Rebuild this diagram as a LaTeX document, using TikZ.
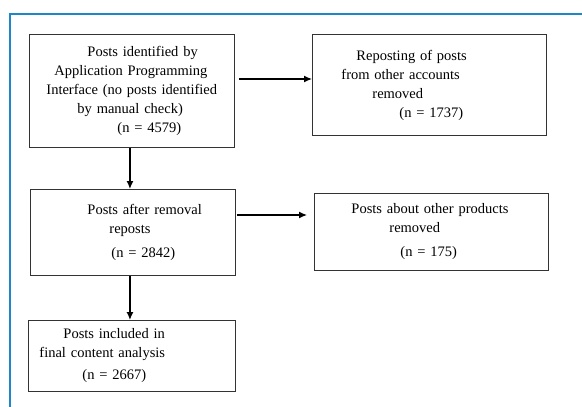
\documentclass[tikz,border=0pt]{standalone}
\usepackage{fontspec}
\setmainfont{Liberation Serif}
\usetikzlibrary{arrows.meta,positioning}
\definecolor{framecol}{RGB}{30,136,199}

\begin{document}
\begin{tikzpicture}[x = 1pt, y = -1pt, font=\fontsize{14.5}{19}\selectfont,
  box/.style={draw=black!80, line width=.9pt, inner sep=0pt, anchor=north west, align=left},
  flow/.style={line width=1.3pt, -{Latex[length=8pt,width=7pt]}}]
\useasboundingbox (0,0) rectangle (582,407);
% Blue frame
\draw[line width=2pt, framecol] (582,14) -- (10,14) -- (10,407);
% Left column
\node[box, text width=205pt, minimum height=113pt] (api) at (29,34) {\hspace*{58pt}Posts identified by\\
\hspace*{25pt}Application Programming\\
\hspace*{17pt}Interface (no posts identified\\
\hspace*{48pt}by manual check)\\
\hspace*{88pt}(n = 4579)};
\node[box, text width=205pt, minimum height=86pt] (afterrep) at (30,189) {\hspace*{57pt}Posts after removal\\
\hspace*{79pt}reposts\\[5pt]
\hspace*{81pt}(n = 2842)};
\node[box, text width=207pt, minimum height=71pt] (final) at (28,320) {\hspace*{35pt}Posts included in\\
\hspace*{11pt}final content analysis\\[3pt]
\hspace*{54pt}(n = 2667)};
% Right column
\node[box, text width=234pt, minimum height=101pt] (repost) at (312,34) {\hspace*{44pt}Reposting of posts\\
\hspace*{29pt}from other accounts\\
\hspace*{60pt}removed\\
\hspace*{87pt}(n = 1737)\\[4pt]};
\node[box, text width=234pt, minimum height=77pt] (other) at (314,193) {\hspace*{37pt}Posts about other products\\
\hspace*{75pt}removed\\[5pt]
\hspace*{86pt}(n = 175)};
% Arrows
\draw[flow] ([shift={(4,45)}]api.north east) -- ([shift={(0,45)}]repost.north west);
\draw[flow] ([shift={(1,26)}]afterrep.north east) -- ([shift={(-7,22)}]other.north west);
\draw[flow] ([xshift=-2pt]api.south) -- ([xshift=-3pt]afterrep.north);
\draw[flow] ([xshift=-3pt]afterrep.south) -- ([xshift=-2pt]final.north);
\end{tikzpicture}
\end{document}
